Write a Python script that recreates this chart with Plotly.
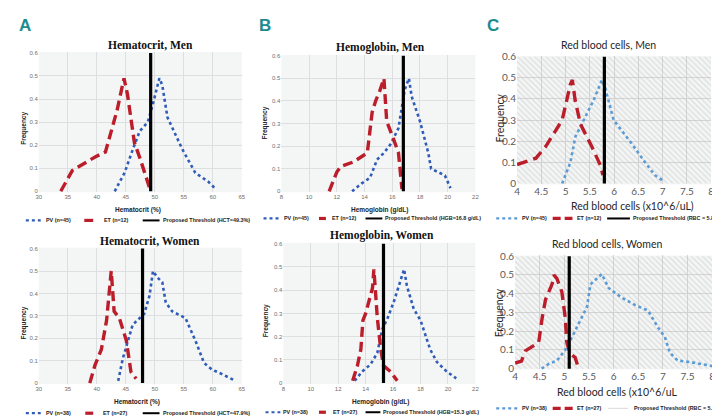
import plotly.graph_objects as go

W, H = 720, 418

# ---------------- data ----------------
# Hematocrit, Men
hct_m_pv_x = [43.1, 44.8, 46.2, 47.4, 48.8, 49.6, 50.8, 51.3, 52.2, 54.8, 57.0, 59.3, 60.5]
hct_m_pv_y = [0.0, 0.08, 0.18, 0.26, 0.30, 0.37, 0.49, 0.46, 0.32, 0.18, 0.08, 0.04, 0.01]
hct_m_et_x = [33.8, 35.8, 39.8, 41.5, 43.5, 44.7, 45.3, 46.5, 47.5, 49.3]
hct_m_et_y = [0.0, 0.09, 0.15, 0.17, 0.35, 0.49, 0.42, 0.21, 0.14, 0.0]
hct_m_thr = 49.3

# Hemoglobin, Men
hgb_m_pv_x = [13.1, 13.8, 14.4, 14.9, 15.4, 15.9, 16.45, 16.7, 16.9, 17.2, 17.4, 18.0, 18.6, 18.8, 19.8, 20.2]
hgb_m_pv_y = [0.0, 0.035, 0.06, 0.14, 0.17, 0.21, 0.28, 0.37, 0.45, 0.50, 0.42, 0.31, 0.17, 0.10, 0.07, 0.014]
hgb_m_et_x = [11.45, 12.0, 12.3, 13.2, 14.2, 14.55, 14.8, 15.1, 15.4, 15.6, 16.1, 16.45, 16.7]
hgb_m_et_y = [0.0, 0.085, 0.11, 0.13, 0.17, 0.35, 0.40, 0.445, 0.50, 0.31, 0.23, 0.17, 0.01]
hgb_m_thr = 16.8

# Red blood cells, Men
rbc_m_pv_x = [4.93, 5.1, 5.2, 5.38, 5.58, 5.75, 5.82, 5.99, 6.36, 6.64, 6.84, 7.03]
rbc_m_pv_y = [0.0, 0.10, 0.22, 0.30, 0.395, 0.49, 0.45, 0.30, 0.19, 0.10, 0.04, 0.01]
rbc_m_et_x = [4.0, 4.39, 4.59, 4.93, 5.1, 5.14, 5.2, 5.31, 5.55, 5.72, 5.77]
rbc_m_et_y = [0.09, 0.12, 0.175, 0.30, 0.47, 0.49, 0.39, 0.28, 0.17, 0.085, 0.04]
rbc_m_thr = 5.8

# Hematocrit, Women
hct_w_pv_x = [43.7, 44.5, 45.4, 46.2, 47.4, 48.2, 49.1, 49.7, 50.5, 51.3, 51.9, 53.0, 55.3, 57.0, 58.5, 59.9, 61.6, 63.9]
hct_w_pv_y = [0.01, 0.11, 0.19, 0.26, 0.29, 0.31, 0.39, 0.50, 0.47, 0.45, 0.36, 0.32, 0.29, 0.19, 0.09, 0.06, 0.04, 0.01]
hct_w_et_x = [38.8, 39.7, 40.8, 41.7, 42.5, 43.0, 43.9, 45.1, 45.9, 46.8]
hct_w_et_y = [0.0, 0.08, 0.15, 0.28, 0.50, 0.32, 0.29, 0.19, 0.05, 0.02]
hct_w_thr = 47.9

# Hemoglobin, Women
hgb_w_pv_x = [13.2, 13.75, 14.35, 14.85, 15.2, 15.6, 16.05, 16.5, 16.8, 17.0, 17.5, 18.0, 18.7, 19.2, 19.9, 20.6]
hgb_w_pv_y = [0.01, 0.05, 0.08, 0.13, 0.23, 0.28, 0.35, 0.43, 0.49, 0.42, 0.32, 0.27, 0.145, 0.09, 0.05, 0.02]
hgb_w_et_x = [13.05, 13.4, 13.65, 13.8, 14.0, 14.25, 14.5, 14.6, 14.7, 14.85, 15.1, 15.3, 15.8, 16.3]
hgb_w_et_y = [0.01, 0.075, 0.145, 0.27, 0.30, 0.35, 0.41, 0.49, 0.40, 0.28, 0.145, 0.075, 0.05, 0.01]
hgb_w_thr = 15.3

# Red blood cells, Women
rbc_w_pv_x = [4.54, 4.69, 4.85, 5.02, 5.16, 5.29, 5.46, 5.53, 5.66, 5.76, 5.9, 6.16, 6.43, 6.7, 6.9, 7.04, 7.14, 7.3, 7.58, 8.0]
rbc_w_pv_y = [0.0, 0.026, 0.043, 0.10, 0.17, 0.24, 0.33, 0.45, 0.48, 0.505, 0.43, 0.38, 0.34, 0.31, 0.22, 0.17, 0.086, 0.043, 0.034, 0.014]
rbc_w_et_x = [4.0, 4.13, 4.21, 4.48, 4.55, 4.62, 4.75, 4.79, 4.85, 4.95, 5.02, 5.05, 5.12, 5.22, 5.29]
rbc_w_et_y = [0.03, 0.04, 0.095, 0.14, 0.27, 0.37, 0.45, 0.50, 0.48, 0.41, 0.27, 0.14, 0.08, 0.06, 0.0]
rbc_w_thr = 5.1

titles = ["Hematocrit, Men", "Hemoglobin, Men", "Red blood cells, Men",
          "Hematocrit, Women", "Hemoglobin, Women", "Red blood cells, Women"]
xtitles = ["Hematocrit (%)", "Hemoglobin (g/dL)", "Red blood cells (x10^6/uL)",
           "Hematocrit (%)", "Hemoglobin (g/dL)", "Red blood cells (x10^6/uL"]
pv_names = ["PV (n=45)", "PV (n=45)", "PV (n=45)", "PV (n=38)", "PV (n=38)", "PV (n=38)"]
et_names = ["ET (n=12)", "ET (n=12)", "ET (n=12)", "ET (n=27)", "ET (n=27)", "ET (n=27)"]
thr_names = ["Proposed Threshold (HCT=49.3%)", "Proposed Threshold (HGB=16.8 g/dL)",
             "Proposed Threshold (RBC = 5.8)", "Proposed Threshold (HCT=47.9%)",
             "Proposed Threshold (HGB=15.3 g/dL)", "Proposed Threshold (RBC = 5.1)"]
x_ranges = [[30, 65], [8, 22], [4, 8], [30, 65], [8, 22], [4, 8]]
x_dticks = [5, 2, 0.5, 5, 2, 0.5]
y_range = [0, 0.6]
panel_letters = ["A", "B", "C"]

series = [
    (hct_m_pv_x, hct_m_pv_y, hct_m_et_x, hct_m_et_y, hct_m_thr),
    (hgb_m_pv_x, hgb_m_pv_y, hgb_m_et_x, hgb_m_et_y, hgb_m_thr),
    (rbc_m_pv_x, rbc_m_pv_y, rbc_m_et_x, rbc_m_et_y, rbc_m_thr),
    (hct_w_pv_x, hct_w_pv_y, hct_w_et_x, hct_w_et_y, hct_w_thr),
    (hgb_w_pv_x, hgb_w_pv_y, hgb_w_et_x, hgb_w_et_y, hgb_w_thr),
    (rbc_w_pv_x, rbc_w_pv_y, rbc_w_et_x, rbc_w_et_y, rbc_w_thr),
]

# ---------------- layout helpers (pixel -> paper) ----------------
def px(x):
    return x / W

def py(y):
    return 1 - y / H

# plot areas in pixels: (x0, x1, ytop, ybottom)
areas = [
    (28, 233, 39, 183),
    (273, 469, 42, 183),
    (511, 707, 43, 175),
    (28, 233, 240, 380),
    (275, 469, 235, 380),
    (509, 708, 248, 365),
]
title_pos = [(141, 32), (373, 34), (603, 32), (140, 233), (375, 228), (602, 236)]
xtitle_pos = [(128, 201), (372, 201), (628, 197), (127, 398), (373, 398), (612, 388)]
ytitle_pos = [(13, 117), (257, 112), (494, 107), (13, 317), (257, 315), (493, 307)]
letter_pos = [(14, 12), (256, 12), (487, 12)]

# legend layout: (y, dots x0,x1, pvtext x, red x0,x1, ettext x, thr x0,x1, thrtext x)
legend_pos = [
    (212, 15, 30, 33, 74, 83, 92, 133, 150, 151),
    (210, 255, 272, 274, 311, 318, 322, 358, 375, 376),
    (210, 490, 512, 514, 547, 567, 570, 602, 625, 626),
    (410, 15, 30, 33, 75, 83, 91, 133, 150, 151),
    (409, 257, 272, 273, 311, 318, 323, 358, 373, 374),
    (405, 490, 512, 514, 547, 568, 570, 603, 623, 627),
]

BLUE_AB = "#2f5cb8"
BLUE_C = "#5b9bd5"
RED = "#bb1e2a"
TEAL = "#1c8b8f"
LEG_FAMILY = "Liberation Sans, sans-serif"

fig = go.Figure()
annotations = []
shapes = []
layout_axes = {}

for i in range(6):
    n = i + 1
    xa = "x" if n == 1 else f"x{n}"
    ya = "y" if n == 1 else f"y{n}"
    xkey = "xaxis" if n == 1 else f"xaxis{n}"
    ykey = "yaxis" if n == 1 else f"yaxis{n}"
    x0, x1, yt, yb = areas[i]
    is_c = (i % 3 == 2)
    pvx, pvy, etx, ety, thr = series[i]

    if is_c:
        xr = x_ranges[i]
        fig.add_trace(go.Scatter(
            x=[xr[0], xr[1], xr[1], xr[0], xr[0]],
            y=[y_range[0], y_range[0], y_range[1], y_range[1], y_range[0]],
            xaxis=xa, yaxis=ya, mode="lines", line=dict(width=0),
            fill="toself", fillcolor="rgba(255,255,255,0)",
            fillpattern=dict(shape="\\", fgcolor="#c4c4c4", size=4, solidity=0.3,
                             fillmode="overlay"),
            hoverinfo="skip", showlegend=False))

    fig.add_trace(go.Scatter(
        x=pvx, y=pvy, xaxis=xa, yaxis=ya, mode="lines", name=pv_names[i],
        line=dict(color=BLUE_C if is_c else BLUE_AB, width=2.6, dash="dot"),
        showlegend=False))
    fig.add_trace(go.Scatter(
        x=etx, y=ety, xaxis=xa, yaxis=ya, mode="lines", name=et_names[i],
        line=dict(color=RED, width=3.4, dash="10px,5px" if not is_c else "11px,6px"),
        showlegend=False))
    fig.add_trace(go.Scatter(
        x=[thr, thr], y=y_range, xaxis=xa, yaxis=ya, mode="lines", name=thr_names[i],
        line=dict(color="black", width=3.2), showlegend=False))

    tickfont = dict(family="Lato", size=10, color="#595959") if is_c else \
        dict(family="Liberation Sans", size=6, color="#6f6f6f")
    grid = "#d4d4d4" if is_c else "#dcdedf"
    layout_axes[xkey] = dict(
        domain=[px(x0), px(x1)], anchor=ya, range=x_ranges[i], dtick=x_dticks[i],
        tick0=x_ranges[i][0], showgrid=True, gridcolor=grid, gridwidth=1,
        zeroline=False, showline=False, ticks="", tickfont=tickfont, fixedrange=True)
    layout_axes[ykey] = dict(
        domain=[py(yb), py(yt)], anchor=xa, range=[-0.004, 0.604], dtick=0.1, tick0=0,
        showgrid=True, gridcolor=grid, gridwidth=1, zeroline=False, showline=False,
        ticks="", tickfont=tickfont, fixedrange=True)

    # titles
    tx, ty = title_pos[i]
    if is_c:
        tfont = dict(family="Lato", size=10.5, color="#262626")
        xfont = dict(family="Lato", size=10.5, color="#262626")
        yfont = dict(family="Lato", size=10.5, color="#262626")
    else:
        tfont = dict(family="Liberation Serif", size=11.5, color="#111111")
        xfont = dict(family="Liberation Sans", size=6.5, color="#222222")
        yfont = dict(family="Liberation Sans", size=6.5, color="#222222")
    annotations.append(dict(text=f"<b>{titles[i]}</b>" if not is_c else titles[i],
                            x=px(tx), y=py(ty), xref="paper", yref="paper",
                            showarrow=False, font=tfont, xanchor="center", yanchor="middle"))
    xtx, xty = xtitle_pos[i]
    annotations.append(dict(text=f"<b>{xtitles[i]}</b>" if not is_c else xtitles[i],
                            x=px(xtx), y=py(xty), xref="paper", yref="paper",
                            showarrow=False, font=xfont, xanchor="center", yanchor="middle"))
    ytx, yty = ytitle_pos[i]
    annotations.append(dict(text="<b>Frequency</b>" if not is_c else "Frequency",
                            x=px(ytx), y=py(yty), xref="paper", yref="paper", textangle=-90,
                            showarrow=False, font=yfont, xanchor="center", yanchor="middle"))

    # legend (symbols drawn as paper shapes, texts as annotations)
    ly, d0, d1, pvt, r0, r1, ett, k0, k1, kt = legend_pos[i]
    lfont = dict(family=LEG_FAMILY, size=5.4, color="#222222")
    shapes.append(dict(type="line", xref="paper", yref="paper", x0=px(d0), x1=px(d1),
                       y0=py(ly), y1=py(ly),
                       line=dict(color=BLUE_C if is_c else BLUE_AB, width=2.2, dash="dot")))
    shapes.append(dict(type="line", xref="paper", yref="paper", x0=px(r0), x1=px(r1),
                       y0=py(ly), y1=py(ly),
                       line=dict(color=RED, width=3.2, dash="8px,4px" if is_c else "solid")))
    thr_col = "#d9d9d9" if i == 5 else "black"
    thr_w = 1 if i == 5 else 2
    shapes.append(dict(type="line", xref="paper", yref="paper", x0=px(k0), x1=px(k1),
                       y0=py(ly), y1=py(ly), line=dict(color=thr_col, width=thr_w)))
    for txt, lx in [(pv_names[i], pvt), (et_names[i], ett), (thr_names[i], kt)]:
        annotations.append(dict(text=f"<b>{txt}</b>", x=px(lx), y=py(ly), xref="paper",
                                yref="paper", showarrow=False, font=lfont,
                                xanchor="left", yanchor="middle"))

for letter, (lx, ly) in zip(panel_letters, letter_pos):
    annotations.append(dict(text=f"<b>{letter}</b>", x=px(lx), y=py(ly), xref="paper",
                            yref="paper", showarrow=False,
                            font=dict(family="Liberation Sans", size=17, color=TEAL),
                            xanchor="center", yanchor="middle"))

fig.update_layout(
    width=W, height=H, margin=dict(l=0, r=0, t=0, b=0),
    paper_bgcolor="white", plot_bgcolor="#f4f5f5",
    showlegend=False, annotations=annotations, shapes=shapes,
    **layout_axes)

fig.write_html("out.html")
